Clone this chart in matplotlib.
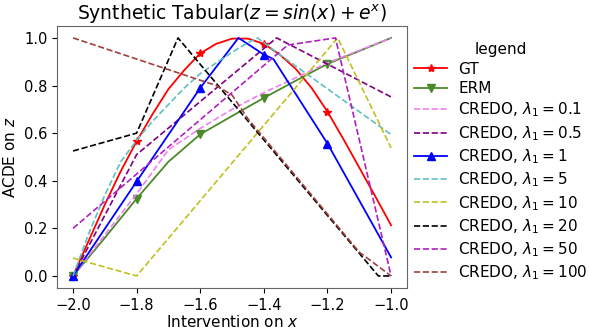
from __future__ import annotations

import matplotlib

matplotlib.use("Agg")
import matplotlib.pyplot as plt


GT_X = [-2.0, -1.95, -1.9, -1.85, -1.8, -1.75, -1.7, -1.65, -1.6, -1.55, -1.5,
        -1.45, -1.4, -1.35, -1.3, -1.25, -1.2, -1.15, -1.1, -1.05, -1.0]
GT_Y = [0.0, 0.15, 0.30, 0.44, 0.566, 0.68, 0.785, 0.865, 0.935, 0.975, 0.997,
        0.997, 0.975, 0.93, 0.87, 0.79, 0.69, 0.575, 0.455, 0.335, 0.213]

ERM_X = [-2.0, -1.9, -1.8, -1.7, -1.6, -1.5, -1.4, -1.3, -1.2, -1.1, -1.0]
ERM_Y = [0.0, 0.16, 0.325, 0.48, 0.595, 0.672, 0.748, 0.82, 0.891, 0.945, 1.0]

# CREDO runs, one per lambda_1
L01_X = [-2.0, -1.8, -1.7, -1.6, -1.5, -1.4, -1.2, -1.0]
L01_Y = [0.0, 0.345, 0.53, 0.62, 0.70, 0.77, 0.895, 1.0]

L05_X = [-2.0, -1.8, -1.36, -1.0]
L05_Y = [0.0, 0.51, 1.0, 0.752]

L1_X = [-2.0, -1.8, -1.6, -1.48, -1.4, -1.37, -1.2, -1.0]
L1_Y = [0.0, 0.397, 0.79, 1.0, 0.93, 0.911, 0.556, 0.078]

L5_X = [-2.0, -1.95, -1.9, -1.85, -1.8, -1.75, -1.7, -1.65, -1.6, -1.55, -1.5,
        -1.45, -1.42, -1.35, -1.2, -1.0]
L5_Y = [0.0, 0.18, 0.34, 0.48, 0.57, 0.65, 0.72, 0.79, 0.85, 0.895, 0.94,
        0.98, 1.0, 0.93, 0.786, 0.594]

L10_X = [-2.0, -1.8, -1.168, -1.0]
L10_Y = [0.075, 0.0, 1.0, 0.538]

L20_X = [-2.0, -1.8, -1.67, -1.04, -1.0]
L20_Y = [0.525, 0.60, 1.0, 0.0, 0.0]

L50_X = [-2.0, -1.325, -1.175, -1.0]
L50_Y = [0.2, 0.97, 1.0, 0.0]

L100_X = [-2.0, -1.55, -1.5, -1.45, -1.1, -1.0]
L100_Y = [1.0, 0.80, 0.76, 0.66, 0.10, 0.0]


def credo_label(lam: str) -> str:
    return fr"CREDO, $\lambda_1 = {lam}$"


def main() -> None:
    fig = plt.figure(figsize=(5.89, 3.29), dpi=100)
    ax = fig.add_axes([0.097, 0.125, 0.594, 0.796])

    ax.plot(GT_X, GT_Y, color="red", lw=1.3, marker="*", ms=6, markevery=[0, 4, 8, 12, 16], label="GT")
    ax.plot(ERM_X, ERM_Y, color="#4a8a2a", lw=1.3, marker="v", ms=6, markevery=[0, 2, 4, 6, 8], label="ERM")
    ax.plot(L01_X, L01_Y, color="violet", ls="--", lw=1.2, label=credo_label("0.1"))
    ax.plot(L05_X, L05_Y, color="purple", ls="--", lw=1.2, label=credo_label("0.5"))
    ax.plot(L1_X, L1_Y, color="blue", lw=1.3, marker="^", ms=6, markevery=[0, 1, 2, 4, 6], label=credo_label("1"))
    ax.plot(L5_X, L5_Y, color="#60c0c0", ls="--", lw=1.2, label=credo_label("5"))
    ax.plot(L10_X, L10_Y, color="#c0c020", ls="--", lw=1.2, label=credo_label("10"))
    ax.plot(L20_X, L20_Y, color="black", ls="--", lw=1.2, label=credo_label("20"))
    ax.plot(L50_X, L50_Y, color="#b020c0", ls="--", lw=1.2, label=credo_label("50"))
    ax.plot(L100_X, L100_Y, color="#a04040", ls="--", lw=1.2, label=credo_label("100"))

    ax.set_xticks([-2.0, -1.8, -1.6, -1.4, -1.2, -1.0])
    ax.set_yticks([0.0, 0.2, 0.4, 0.6, 0.8, 1.0])
    ax.tick_params(labelsize=10.5)
    ax.set_xlabel("Intervention on $x$", fontsize=11, labelpad=1)
    ax.set_ylabel("ACDE on $z$", fontsize=11)
    ax.set_title(r"Synthetic Tabular($z = sin(x) + e^x$)", fontsize=13.5, pad=4)
    for s in ax.spines.values():
        s.set_color("0.4")

    ax.legend(loc="center left", bbox_to_anchor=(0.98, 0.48), frameon=False, title="legend",
              fontsize=11, title_fontsize=11, handlelength=2.2, handletextpad=0.7,
              labelspacing=0.3)
    fig.savefig("out.png", dpi=100)
    plt.close(fig)


if __name__ == "__main__":
    main()
